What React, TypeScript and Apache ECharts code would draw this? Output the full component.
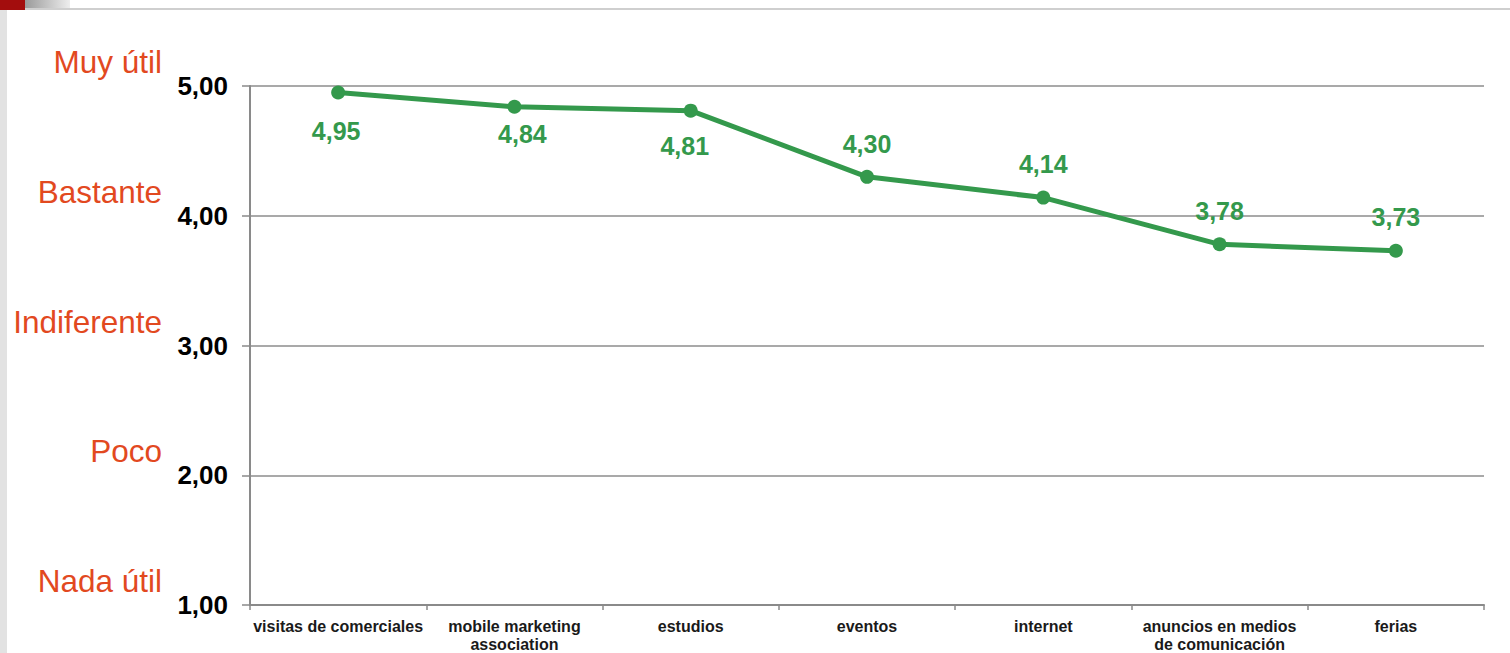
import React, { useEffect, useRef } from "react";
import * as echarts from "echarts";

const categories = [
  "visitas de comerciales",
  "mobile marketing\nassociation",
  "estudios",
  "eventos",
  "internet",
  "anuncios en medios\nde comunicación",
  "ferias",
];
const values = [4.95, 4.84, 4.81, 4.3, 4.14, 3.78, 3.73];
const labelSides = ["bottom", "bottom", "bottom", "top", "top", "top", "top"];
const labelShifts = [
  [-2, 3],
  [8, -8],
  [-6, 0],
  [0, -1],
  [0, -2],
  [0, -2],
  [0, -2],
];
const scaleLabels: Record<number, string> = {
  5: "Muy útil",
  4: "Bastante",
  3: "Indiferente",
  2: "Poco",
  1: "Nada útil",
};

const GREEN = "#34994c";
const ORANGE = "#e2491f";
const FONT = "'Liberation Sans', Arial, sans-serif";
const fmt = (v: number) => v.toFixed(2).replace(".", ",");

export default function App() {
  const ref = useRef<HTMLDivElement>(null);
  useEffect(() => {
    if (!ref.current) return;
    const chart = echarts.init(ref.current, null, { renderer: "svg" });
    const data = values.map((v, i) => ({
      value: v,
      label: {
        position: labelSides[i],
        distance: labelSides[i] === "bottom" ? 16 : 12,
        offset: labelShifts[i],
      },
    }));
    chart.setOption({
      animation: false,
      backgroundColor: "#ffffff",
      textStyle: { fontFamily: FONT },
      grid: { left: 250, right: 26, top: 86, bottom: 45, containLabel: false },
      graphic: [
        { type: "rect", shape: { x: 0, y: 0, width: 25, height: 10 }, style: { fill: "#a30d0d" } },
        {
          type: "rect",
          shape: { x: 25, y: 0, width: 45, height: 10 },
          style: {
            fill: new echarts.graphic.LinearGradient(0, 0, 1, 0, [
              { offset: 0, color: "#9a9a9a" },
              { offset: 1, color: "#eeeeee" },
            ]),
          },
        },
        { type: "line", shape: { x1: 25, y1: 9, x2: 1510, y2: 9 }, style: { stroke: "#cfcfcf", lineWidth: 2 } },
        { type: "rect", shape: { x: 0, y: 10, width: 7, height: 643 }, style: { fill: "#e2e2e2" } },
      ],
      xAxis: {
        type: "category",
        data: categories,
        boundaryGap: true,
        axisLine: { lineStyle: { color: "#8a8a8a", width: 2 } },
        axisTick: { show: true, length: 5, lineStyle: { color: "#8a8a8a", width: 1.5 } },
        axisLabel: {
          interval: 0,
          color: "#1a1a1a",
          fontWeight: "bold",
          fontSize: 16,
          lineHeight: 18,
          margin: 12,
          fontFamily: FONT,
        },
      },
      yAxis: [
        {
          type: "value",
          min: 1,
          max: 5,
          interval: 1,
          axisLine: { show: true, lineStyle: { color: "#8a8a8a", width: 2 } },
          axisTick: { show: true, length: 8, lineStyle: { color: "#8a8a8a", width: 1.5 } },
          splitLine: { show: true, lineStyle: { color: "#8c8c8c", width: 1.5 } },
          axisLabel: {
            formatter: (v: number) => fmt(v),
            color: "#000000",
            fontWeight: "bold",
            fontSize: 26,
            margin: 22,
            fontFamily: FONT,
          },
        },
        {
          type: "value",
          min: 1,
          max: 5,
          interval: 1,
          position: "left",
          offset: 88,
          axisLine: { show: false },
          axisTick: { show: false },
          splitLine: { show: false },
          axisLabel: {
            formatter: (v: number) => scaleLabels[v] ?? "",
            color: ORANGE,
            fontSize: 31.5,
            margin: 0,
            fontFamily: FONT,
            verticalAlign: "bottom",
            lineHeight: 32,
            padding: [0, 0, 8, 0],
          },
        },
      ],
      series: [
        {
          type: "line",
          data,
          yAxisIndex: 0,
          symbol: "circle",
          symbolSize: 14,
          itemStyle: { color: GREEN },
          lineStyle: { color: GREEN, width: 5 },
          label: {
            show: true,
            formatter: (p: any) => fmt(p.value),
            color: GREEN,
            fontWeight: "bold",
            fontSize: 25,
            fontFamily: FONT,
          },
        },
      ],
    });
    return () => chart.dispose();
  }, []);
  return (
    <div
      ref={ref}
      style={{ position: "fixed", left: 0, top: 0, width: 1510, height: 653 }}
    />
  );
}
